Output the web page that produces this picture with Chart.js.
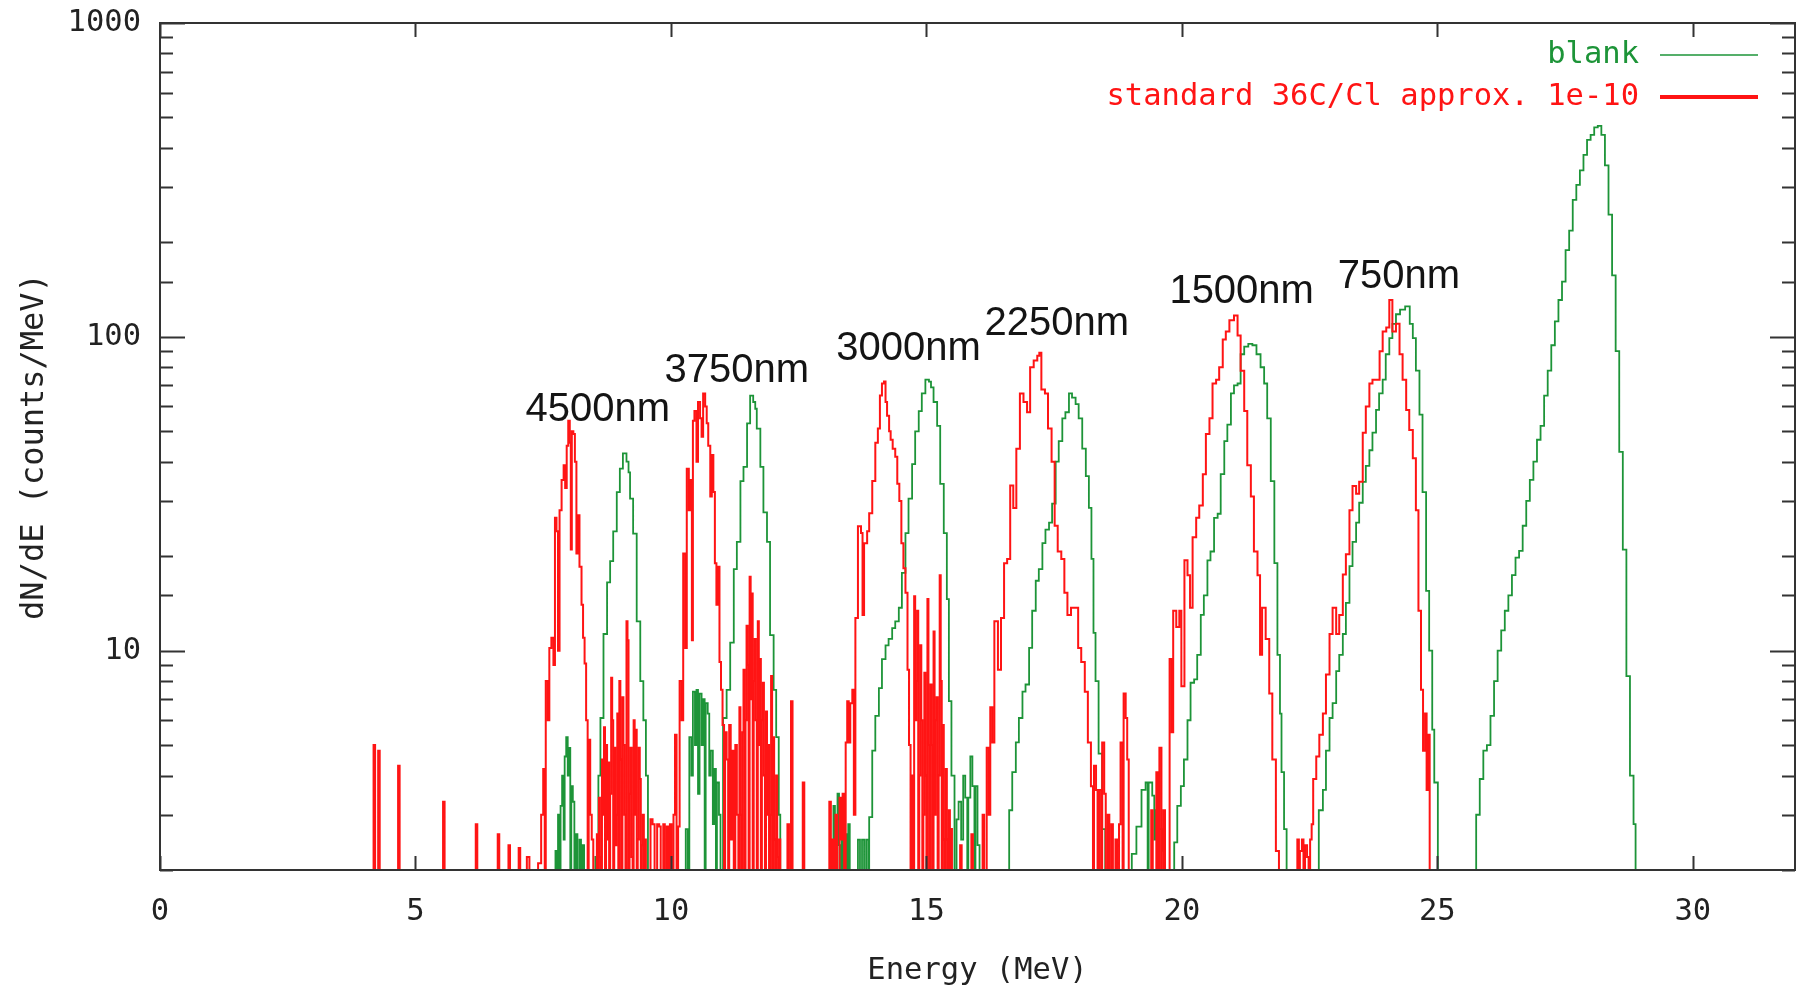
<!DOCTYPE html>
<html>
<head>
<meta charset="utf-8">
<title>dN/dE spectrum</title>
<script src="https://cdn.jsdelivr.net/npm/chart.js@4.4.1/dist/chart.umd.min.js"></script>
<style>
  html, body { margin: 0; padding: 0; background: #fff; }
  canvas { display: block; }
</style>
</head>
<body>
<canvas id="spectrum" width="1798" height="993"></canvas>
<script>
// --- Data (energy in MeV = left edge of each step, counts/MeV; 1 = empty bin, below the axis) ---
const standardEnergy = [
  0, 4.18, 4.21, 4.27, 4.30, 4.66, 4.69, 5.54, 5.57, 6.18, 6.21, 6.61, 6.64, 6.82, 6.85, 7.02, 7.05, 7.18, 7.23,
  7.40, 7.46, 7.50, 7.53, 7.55, 7.59, 7.62, 7.66, 7.70, 7.73, 7.76, 7.79, 7.82, 7.86, 7.90, 7.93, 7.96, 7.99, 8.02, 8.04, 8.06, 8.09, 8.12, 8.15, 8.18, 8.21, 8.25, 8.28, 8.31, 8.34, 8.37, 8.39, 8.42, 8.45, 8.48,
  8.55, 8.57, 8.59, 8.61, 8.63, 8.65, 8.67, 8.69, 8.71, 8.73, 8.75, 8.77, 8.79, 8.81, 8.83, 8.85, 8.87, 8.89, 8.91, 8.93, 8.95, 8.97, 8.99, 9.01, 9.03, 9.05, 9.07, 9.09, 9.11, 9.13, 9.15, 9.17, 9.19, 9.21, 9.23, 9.25, 9.27, 9.29, 9.31, 9.33, 9.35, 9.37, 9.39, 9.41, 9.43, 9.45, 9.47, 9.49, 9.51, 9.53,
  9.60, 9.64, 9.68, 9.73, 9.77, 9.80, 9.85, 9.88, 9.92, 9.95, 9.98, 10.01, 10.05, 10.08, 10.11, 10.14, 10.17, 10.21, 10.24, 10.28, 10.31, 10.35, 10.38, 10.41, 10.43, 10.46,
  10.50, 10.53, 10.57, 10.60, 10.63, 10.67, 10.70, 10.73, 10.77, 10.80, 10.83, 10.86, 10.89, 10.92, 10.95, 10.98, 11.01, 11.04, 11.06, 11.09, 11.12, 11.14, 11.17, 11.20, 11.23, 11.26, 11.29, 11.32,
  11.34, 11.36, 11.38, 11.40, 11.42, 11.44, 11.46, 11.48, 11.50, 11.52, 11.54, 11.56, 11.58, 11.60, 11.62, 11.64, 11.66, 11.68, 11.70, 11.72, 11.74, 11.76, 11.78, 11.80, 11.82, 11.84, 11.86, 11.88, 11.90, 11.92, 11.94, 11.96, 11.98, 12.00, 12.02, 12.04, 12.06, 12.08, 12.10, 12.12, 12.14, 12.28, 12.31, 12.35, 12.38, 12.58, 12.61,
  13.10, 13.13, 13.16, 13.19, 13.22, 13.25, 13.30, 13.33, 13.36, 13.39, 13.42, 13.45, 13.48, 13.51, 13.55, 13.58, 13.61, 13.66, 13.72, 13.75, 13.78, 13.84, 13.88, 13.94, 14.00, 14.05, 14.09, 14.13, 14.17, 14.20, 14.23, 14.27, 14.30, 14.34, 14.39, 14.43, 14.47, 14.51, 14.55, 14.59, 14.63, 14.66, 14.69,
  14.72, 14.74, 14.76, 14.78, 14.80, 14.82, 14.84, 14.86, 14.88, 14.90, 14.92, 14.94, 14.96, 14.98, 15.00, 15.02, 15.04, 15.06, 15.08, 15.10, 15.12, 15.14, 15.16, 15.18, 15.20, 15.22, 15.24, 15.26, 15.28, 15.30, 15.32, 15.34, 15.36, 15.38, 15.40, 15.42, 15.44, 15.46, 15.48, 15.50, 15.52,
  15.66, 15.69, 15.88, 15.91, 16.10, 16.13, 16.18, 16.22, 16.25, 16.29,
  16.33, 16.40, 16.46, 16.52, 16.58, 16.64, 16.70, 16.76, 16.83, 16.90, 16.97, 17.03, 17.10, 17.17, 17.21, 17.25, 17.32, 17.38, 17.45, 17.51, 17.57, 17.64, 17.70, 17.76, 17.83, 17.90, 17.97, 18.03, 18.10, 18.16, 18.22, 18.26, 18.28, 18.32, 18.35, 18.38, 18.42, 18.44, 18.48, 18.51, 18.55, 18.58, 18.62, 18.65, 18.70, 18.73, 18.77, 18.80, 18.84, 18.86, 18.90, 18.93, 18.96,
  19.40, 19.43, 19.50, 19.53, 19.56, 19.60, 19.64, 19.67, 19.76, 19.80, 19.83, 19.89, 19.95, 19.99, 20.05, 20.11, 20.16, 20.21, 20.28, 20.34, 20.41, 20.47, 20.54, 20.60, 20.67, 20.73, 20.80, 20.86, 20.93, 21.02, 21.09, 21.15, 21.22, 21.28, 21.35, 21.41, 21.48, 21.53, 21.57, 21.64, 21.71, 21.77, 21.84, 21.90,
  22.26, 22.29, 22.31, 22.35, 22.38, 22.41, 22.45, 22.48, 22.51, 22.54, 22.57, 22.63, 22.69, 22.76, 22.82, 22.89, 22.95, 23.02, 23.08, 23.15, 23.21, 23.28, 23.34, 23.41, 23.47, 23.54, 23.60, 23.67, 23.73, 23.80, 23.87, 23.93, 24.00, 24.06, 24.12, 24.19, 24.26, 24.32, 24.39, 24.45, 24.52, 24.58, 24.63, 24.68, 24.72, 24.76, 24.79, 24.82, 24.85,
  32
];
const standardCounts = [
  1, 5.0, 1, 4.8, 1, 4.3, 1, 3.3, 1, 2.8, 1, 2.6, 1, 2.4, 1, 2.35, 1, 2.2, 1,
  2.1, 3.0, 4.2, 1, 8.0, 6.0, 10.2, 11, 9, 26.5, 24, 10, 28, 35, 39, 33, 45, 54, 46, 21, 50, 49, 40, 20.4, 27, 18.5, 14, 11, 9.1, 6.0, 1, 5.2, 3, 2.5, 1,
  2.6, 1, 3.4, 2.2, 1, 4.5, 3.0, 5.7, 1, 5.0, 2.5, 4.4, 1, 3.5, 8.2, 6.0, 1, 4.9, 2.4, 3.0, 6.3, 1, 8.0, 4.5, 1, 7.1, 5.0, 3.0, 1, 12.4, 10.8, 1, 3.5, 4.9, 2.2, 1, 6.0, 3.0, 5.6, 1, 2.5, 4.9, 3.9, 1, 2.4, 3.0, 1, 2.5, 1, 1,
  2.9, 2.8, 1, 2.8, 2.75, 1, 2.8, 1, 2.75, 1, 2.8, 1, 3.0, 5.4, 1, 2.75, 8.0, 6.0, 20.4, 10.2, 38, 28, 35, 10.8, 54, 58,
  40, 62, 55, 48, 66, 60, 53, 45, 31, 42, 32, 19, 14, 18.5, 9.2, 7.5, 5.8, 1, 5.5, 4.5, 1, 5.8, 2.5, 4.8, 1, 5.0, 3.0, 1,
  6.6, 3.0, 1, 5.5, 8.7, 1, 6, 12, 9, 1, 17.2, 7, 15.2, 1, 8, 10.9, 6, 1, 12.4, 5, 9.4, 1, 6, 7.9, 4, 1, 6.4, 3, 5, 1, 3, 8.3, 1, 5.3, 2.5, 1, 4.0, 2.2, 1, 2.5, 1, 2.8, 1, 6.9, 1, 3.8, 1,
  3.3, 1, 2.5, 1, 3.0, 1, 3.4, 2.5, 3.5, 1, 5.1, 6.9, 5.1, 6.8, 7.5, 3, 12.7, 24.9, 23.7, 13, 22, 24, 27.4, 34.7, 46, 51, 65, 71, 72, 62, 56, 50, 47, 44, 41.5, 34, 30, 22, 18.3, 15.3, 8.7, 5, 1,
  4, 1, 14.9, 6, 8, 13.4, 1, 4, 10.4, 6, 1, 3, 8.5, 4, 1, 14.6, 5, 1, 7.8, 5, 1, 11.5, 3, 6, 7.1, 1, 4, 17.4, 8, 1, 5.8, 2.5, 1, 4.2, 2.5, 1, 3.1, 1, 2.7, 1, 1,
  2.4, 1, 2.6, 1, 3.0, 1, 4.9, 3, 6.6, 5.1,
  12.4, 8.7, 12.7, 19, 19.6, 33.6, 28.5, 44, 66, 62, 57.5, 80, 84, 87, 89, 68, 66, 51, 40, 25, 20.7, 19.6, 15.3, 13, 13.7, 13.7, 10.2, 9.2, 7.4, 5.1, 3.7, 1, 4.3, 3.6, 1, 3.6, 1, 5.1, 3.5, 1, 3.0, 1, 2.8, 1, 2.5, 1, 2.8, 5.1, 1, 7.3, 6.1, 4.5, 1,
  3.1, 1, 4.1, 1, 4.9, 1, 3.1, 1, 9.4, 5.5, 13.4, 11.9, 13.4, 7.7, 19.4, 17.4, 13.7, 23, 26.5, 29, 36.5, 49, 55, 71, 73, 80, 98, 104, 113, 117, 101, 78, 58, 39, 31, 20.7, 17.4, 9.7, 13.7, 10.9, 7.3, 4.5, 2.3, 1,
  2.5, 1, 2.3, 2.5, 1, 2.4, 2.2, 1, 2.5, 2.8, 3.9, 4.6, 5.4, 6.3, 8.4, 11.3, 13.7, 11.3, 13, 17.5, 20.3, 28, 33.5, 31.6, 34.5, 49.5, 60, 71, 73, 73, 90, 104, 107, 131, 104, 110, 88, 73, 58.5, 50.5, 41, 28, 13.4, 7.5, 4.8, 6.3, 3.6, 5.4, 1,
  1
];

const blankEnergy = [
  0, 7.74, 7.77, 7.79, 7.82, 7.84, 7.87, 7.90, 7.92, 7.95, 7.98, 8.00, 8.03, 8.05, 8.08, 8.11, 8.14, 8.17, 8.21, 8.24, 8.27, 8.30, 8.52, 8.55,
  8.58, 8.62, 8.68, 8.75, 8.81, 8.87, 8.94, 9.00, 9.06, 9.13, 9.17, 9.20, 9.26, 9.33, 9.40, 9.46, 9.51, 9.55,
  10.29, 10.33, 10.36, 10.40, 10.43, 10.47, 10.50, 10.53, 10.56, 10.60, 10.63, 10.66, 10.68, 10.72, 10.75, 10.78, 10.82, 10.85, 10.88, 10.90, 10.94, 10.97,
  11.02, 11.09, 11.16, 11.23, 11.29, 11.36, 11.42, 11.49, 11.55, 11.61, 11.65, 11.68, 11.75, 11.81, 11.88, 11.94, 12.01, 12.06, 12.11, 12.14,
  13.18, 13.21, 13.26, 13.29, 13.32, 13.34, 13.37, 13.40, 13.44, 13.47, 13.50, 13.66, 13.70, 13.74, 13.78, 13.82, 13.86,
  13.88, 13.94, 14.00, 14.07, 14.13, 14.20, 14.26, 14.33, 14.39, 14.46, 14.52, 14.59, 14.65, 14.72, 14.78, 14.85, 14.91, 14.98, 15.05, 15.09, 15.14, 15.21, 15.27, 15.34, 15.40, 15.44, 15.49, 15.55, 15.59, 15.63, 15.68, 15.72, 15.76, 15.80, 15.82, 15.86, 15.90, 15.94, 15.96, 16.00, 16.04,
  16.62, 16.68, 16.75, 16.81, 16.88, 16.94, 17.01, 17.07, 17.14, 17.20, 17.27, 17.33, 17.40, 17.46, 17.53, 17.59, 17.66, 17.72, 17.79, 17.85, 17.92, 17.98, 18.05, 18.12, 18.18, 18.23, 18.27, 18.31, 18.37, 18.44, 18.50,
  19.02, 19.11, 19.21, 19.29, 19.33, 19.35, 19.42, 19.46, 19.49, 19.55, 19.62, 19.67,
  19.85, 19.91, 19.98, 20.04, 20.11, 20.17, 20.24, 20.30, 20.37, 20.43, 20.50, 20.56, 20.63, 20.70, 20.76, 20.83, 20.89, 20.96, 21.02, 21.09, 21.15, 21.22, 21.30, 21.38, 21.46, 21.54, 21.61, 21.67, 21.74, 21.81, 21.87, 21.92, 21.95, 22.00, 22.05,
  22.68, 22.76, 22.82, 22.89, 22.95, 23.02, 23.08, 23.15, 23.21, 23.28, 23.34, 23.41, 23.47, 23.54, 23.60, 23.67, 23.73, 23.80, 23.86, 23.93, 23.99, 24.06, 24.12, 24.19, 24.27, 24.37, 24.46, 24.52, 24.58, 24.65, 24.71, 24.78, 24.84, 24.90, 24.94, 25.01,
  25.76, 25.83, 25.90, 25.97, 26.04, 26.11, 26.18, 26.25, 26.32, 26.39, 26.46, 26.53, 26.60, 26.67, 26.74, 26.81, 26.88, 26.95, 27.02, 27.09, 27.16, 27.23, 27.30, 27.37, 27.44, 27.51, 27.58, 27.65, 27.72, 27.79, 27.86, 27.93, 28.00, 28.07, 28.14, 28.21, 28.28, 28.35, 28.42, 28.49, 28.56, 28.63, 28.70, 28.77, 28.84, 28.88,
  32
];
const blankCounts = [
  1, 2.3, 1, 3.0, 1, 3.2, 4.0, 2.5, 4.6, 5.3, 4.0, 4.9, 1, 3.7, 3.3, 1, 2.6, 1, 2.5, 1, 2.4, 1, 2.2, 1,
  4.0, 6.1, 11.3, 16.5, 19.3, 24, 32, 38, 42.5, 40, 37, 30.5, 23.6, 12.4, 8, 6, 4, 1,
  2.7, 1, 5.3, 4, 7.4, 5.0, 7.5, 3.5, 7.3, 5, 7.0, 1, 6.8, 6.3, 4, 4.8, 2.8, 4.2, 1, 3.8, 3, 1,
  6.1, 7.5, 10.6, 18.2, 22.2, 34.7, 38.5, 53, 65, 62, 59, 51, 38.5, 27.6, 22.2, 11.2, 7.5, 5.3, 3.0, 1,
  3.2, 1, 3.5, 2.4, 1, 3.0, 1, 2.6, 1, 2.8, 1, 2.5, 1, 2.5, 1, 2.5, 1,
  2.95, 4.8, 6.2, 7.6, 9.4, 10.4, 10.9, 11.8, 12.4, 13.7, 17.7, 23.7, 30.5, 39.3, 50, 58, 66, 73, 72, 69, 62, 52, 34, 23.7, 14.6, 6.9, 4.0, 1, 2.9, 3.3, 2.5, 4.0, 3.4, 1, 3.4, 4.6, 3.7, 1, 3.7, 2.4, 1,
  3.1, 4.1, 5.1, 6.1, 7.4, 7.8, 10.2, 13.4, 16.7, 18.2, 22, 24.3, 25.6, 29.4, 40, 46.5, 55, 57.5, 66, 64, 61, 55, 44, 36, 28.5, 19.6, 11.4, 8, 4.7, 2.7, 1,
  2.25, 2.75, 3.6, 3.8, 1, 3.8, 3.45, 2.5, 3.1, 2.7, 2.3, 1,
  2.45, 3.2, 3.7, 4.5, 6.0, 7.9, 8.1, 9.7, 13, 15, 19.4, 20.7, 26.5, 27.3, 36.5, 46.5, 52.5, 66, 70, 71, 88, 93, 95, 94, 88, 80, 71, 55, 34.7, 19, 9.7, 6.3, 4.1, 2.7, 1,
  3.1, 3.6, 4.8, 6.1, 6.8, 8.6, 9.7, 11.3, 14.2, 18.6, 22.2, 25.6, 29.6, 34.5, 38.8, 43.5, 49.5, 58.5, 66, 73, 88, 99, 110, 118, 122, 125, 110, 99, 78, 56.5, 32, 15.5, 10, 5.6, 3.8, 1,
  3.0, 3.9, 4.8, 5.0, 6.2, 8.0, 10, 11.6, 13.4, 15, 17.4, 19.8, 20.8, 25, 30, 35, 40, 47, 52, 65, 78, 94, 112, 131, 150, 189, 218, 273, 305, 339, 380, 424, 440, 465, 470, 440, 352, 245, 157, 90, 43, 21, 8.3, 4, 2.8, 1,
  1
];

const seriesLabels = ['blank', 'standard 36C/Cl approx. 1e-10'];
const xTicks = [0, 5, 10, 15, 20, 25, 30];
const yTickLabels = [10, 100, 1000];

// thickness labels sitting above each pair of peaks
const peakLabels = ['4500nm', '3750nm', '3000nm', '2250nm', '1500nm', '750nm'];
const peakLabelEnergy = [8.57, 11.29, 14.65, 17.55, 21.17, 24.25];
const peakLabelCounts = [53.8, 71.6, 84.2, 101, 128, 143];

// --- Styles ---
const GREEN = '#1d9438';
const RED = '#ff1414';
const INK = '#222222';
const MONO = '"DejaVu Sans Mono", monospace';
const FONT_SIZE = 30.5;

function steps(es, ns) {
  return es.map((e, i) => ({ x: e, y: ns[i] }));
}

// --- Plugins ---
const frameTicks = {
  id: 'frameTicks',
  afterDatasetsDraw(chart) {
    const { ctx, chartArea: a, scales: { x, y } } = chart;
    ctx.save();
    ctx.strokeStyle = '#333';
    ctx.lineWidth = 2;
    ctx.beginPath();
    xTicks.forEach(v => {
      const px = Math.round(x.getPixelForValue(v)) + 0.5;
      ctx.moveTo(px, a.bottom); ctx.lineTo(px, a.bottom - 14);
      ctx.moveTo(px, a.top); ctx.lineTo(px, a.top + 14);
    });
    y.ticks.forEach(t => {
      const lg = Math.log10(t.value);
      const major = Math.abs(lg - Math.round(lg)) < 1e-9;
      const len = major ? 25 : 13;
      const py = Math.round(y.getPixelForValue(t.value)) + 0.5;
      ctx.moveTo(a.left, py); ctx.lineTo(a.left + len, py);
      ctx.moveTo(a.right, py); ctx.lineTo(a.right - len, py);
    });
    ctx.stroke();
    ctx.strokeRect(a.left, a.top, a.right - a.left, a.bottom - a.top);
    ctx.restore();
  }
};

const peakText = {
  id: 'peakText',
  afterDatasetsDraw(chart) {
    const { ctx, scales: { x, y } } = chart;
    ctx.save();
    ctx.font = '40px "Liberation Sans", Arial, sans-serif';
    ctx.fillStyle = '#141414';
    ctx.textAlign = 'center';
    ctx.textBaseline = 'alphabetic';
    peakLabels.forEach((txt, i) => {
      ctx.fillText(txt, x.getPixelForValue(peakLabelEnergy[i]), y.getPixelForValue(peakLabelCounts[i]));
    });
    ctx.restore();
  }
};

const keyBox = {
  id: 'keyBox',
  afterDraw(chart) {
    const { ctx, chartArea: a } = chart;
    const rows = [
      { text: seriesLabels[0], color: GREEN, width: 1.6, dy: 32 },
      { text: seriesLabels[1], color: RED, width: 4, dy: 74 }
    ];
    ctx.save();
    ctx.font = FONT_SIZE + 'px ' + MONO;
    ctx.textAlign = 'right';
    ctx.textBaseline = 'middle';
    rows.forEach(r => {
      const yy = a.top + r.dy;
      ctx.fillStyle = r.color;
      ctx.fillText(r.text, a.right - 156, yy);
      ctx.strokeStyle = r.color;
      ctx.lineWidth = r.width;
      ctx.beginPath();
      ctx.moveTo(a.right - 135, yy);
      ctx.lineTo(a.right - 37, yy);
      ctx.stroke();
    });
    ctx.restore();
  }
};

// --- Chart ---
Chart.defaults.font.family = MONO;
Chart.defaults.color = INK;

const chart = new Chart(document.getElementById('spectrum').getContext('2d'), {
  type: 'line',
  data: {
    datasets: [
      {
        label: seriesLabels[1],
        data: steps(standardEnergy, standardCounts),
        borderColor: RED,
        borderWidth: 2,
        stepped: 'before',
        pointRadius: 0,
        fill: false,
        clip: 0,
        order: 0
      },
      {
        label: seriesLabels[0],
        data: steps(blankEnergy, blankCounts),
        borderColor: GREEN,
        borderWidth: 1.8,
        stepped: 'before',
        pointRadius: 0,
        fill: false,
        clip: 0,
        order: 1
      }
    ]
  },
  options: {
    responsive: false,
    animation: false,
    devicePixelRatio: 1,
    layout: { padding: { top: 23, right: 3, left: 0, bottom: 0 } },
    plugins: { legend: { display: false }, tooltip: { enabled: false } },
    scales: {
      x: {
        type: 'linear',
        min: 0,
        max: 32,
        afterBuildTicks: s => { s.ticks = xTicks.map(v => ({ value: v })); },
        ticks: { font: { size: FONT_SIZE }, color: INK, padding: 24, maxRotation: 0 },
        grid: { display: false, drawTicks: false },
        border: { display: false },
        title: { display: true, text: 'Energy (MeV)', font: { size: FONT_SIZE }, color: INK, padding: { top: 0, bottom: 4 } },
        afterFit: s => { s.height = 123; s.paddingLeft = 0; s.paddingRight = 0; }
      },
      y: {
        type: 'logarithmic',
        min: 2,
        max: 1000,
        ticks: {
          font: { size: FONT_SIZE },
          color: INK,
          padding: 19,
          autoSkip: false,
          callback: v => (yTickLabels.includes(Math.round(v)) && Math.abs(v - Math.round(v)) < 1e-6 ? String(Math.round(v)) : '')
        },
        grid: { display: false, drawTicks: false },
        border: { display: false },
        title: { display: true, text: 'dN/dE (counts/MeV)', font: { size: 32 }, color: INK, padding: { top: 15, bottom: 0 } },
        afterFit: s => { s.width = 160; s.paddingTop = 0; s.paddingBottom = 0; }
      }
    }
  },
  plugins: [frameTicks, peakText, keyBox]
});
</script>
</body>
</html>
